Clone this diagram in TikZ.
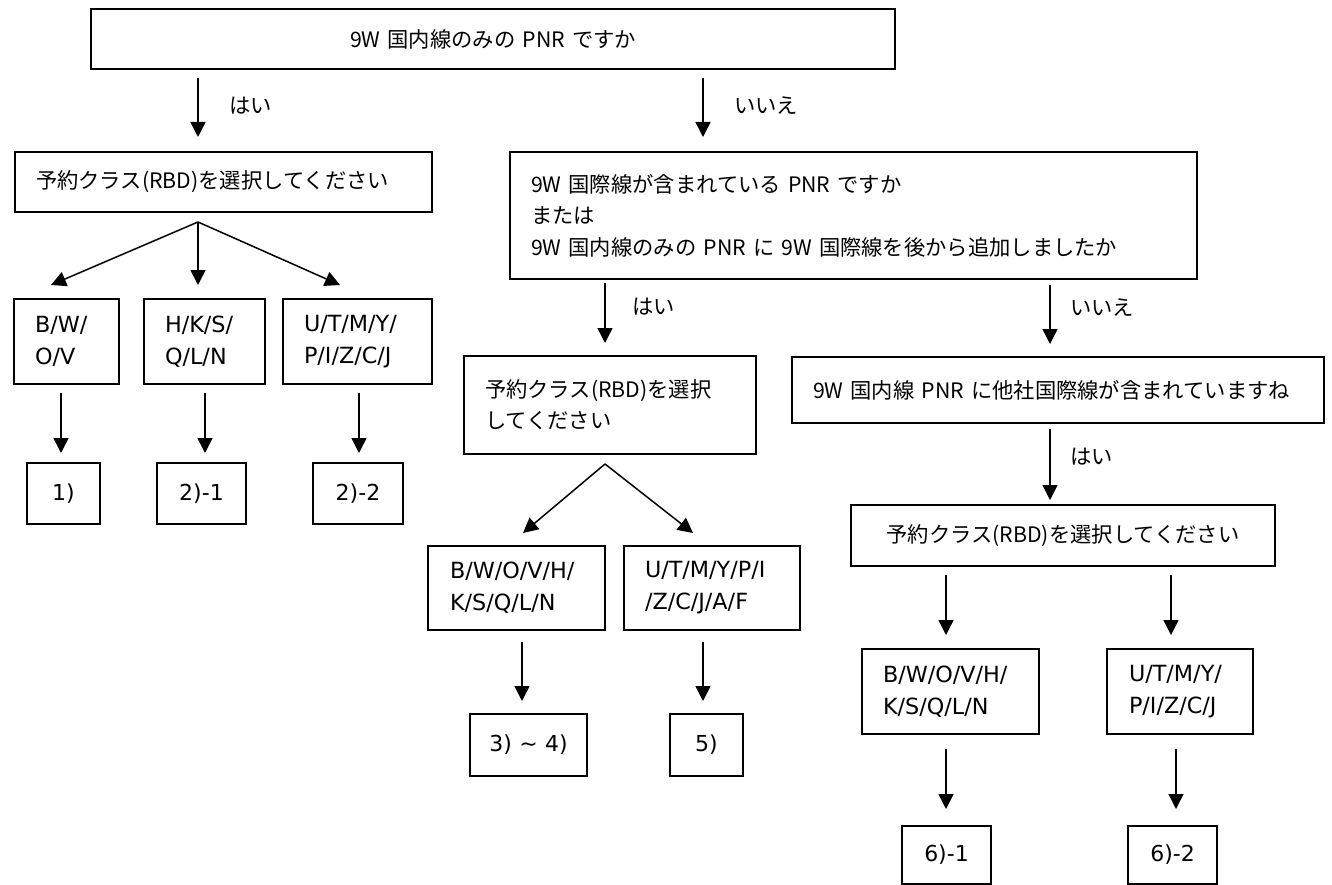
\documentclass[tikz,border=0pt]{standalone}
\usepackage{fontspec}
\setmainfont{DejaVu Sans}
\newfontfamily\jp{Noto Sans CJK JP}
\usetikzlibrary{arrows.meta}
\newcommand\mkbox[8]{%
  \pgfmathsetmacro\bcx{(#2+#4)/2}\pgfmathsetmacro\bcy{(#3+#5)/2}%
  \pgfmathsetmacro\bw{#4-#2}\pgfmathsetmacro\bh{#5-#3}%
  \pgfmathsetmacro\btw{2*(\bcx-#6)}%
  \node[box,#7,minimum width=\bw pt,minimum height=\bh pt,text width=\btw pt] (#1) at (\bcx,\bcy) {#8};}
\begin{document}
\begin{tikzpicture}[x=1pt,y=-1pt,
  box/.style={draw, line width=2pt, inner sep=0pt, align=left},
  jtxt/.style={font=\jp\fontsize{21.3}{31.5}\selectfont},
  ctxt/.style={font=\fontsize{22.3}{32}\selectfont},
  rtxt/.style={font=\fontsize{22}{24}\selectfont, align=center},
  arr/.style={line width=1.5pt, -{Triangle[width=15pt,length=15pt]}},
  lab/.style={anchor=west, inner sep=0pt, font=\jp\fontsize{21.3}{25}\selectfont}]
\useasboundingbox (0,0) rectangle (1332,885);

% top level
\mkbox{top}{91}{9}{895}{69}{93}{jtxt,align=center}{9W 国内線のみの PNR ですか}

% left branch
\mkbox{rbdA}{15}{152}{432}{212}{36}{jtxt}{予約クラス(RBD)を選択してください}
\mkbox{cA1}{14}{299}{119}{384}{35}{ctxt}{B/W/\\O/V}
\mkbox{cA2}{144}{299}{265}{384}{165}{ctxt}{H/K/S/\\Q/L/N}
\mkbox{cA3}{283}{299}{432}{384}{304}{ctxt}{U/T/M/Y/\\P/I/Z/C/J}
\mkbox{rA1}{27}{463}{100}{524}{29}{rtxt}{1)}
\mkbox{rA2}{157}{463}{246}{524}{159}{rtxt}{2)-1}
\mkbox{rA3}{313}{463}{403}{524}{315}{rtxt}{2)-2}

% middle branch
\mkbox{q2}{510}{152}{1197}{279}{531}{jtxt}{9W 国際線が含まれている PNR ですか\\または\\9W 国内線のみの PNR に 9W 国際線を後から追加しましたか}
\mkbox{rbdB}{464}{356}{756}{454}{485}{jtxt,font=\jp\fontsize{21.3}{31}\selectfont}{予約クラス(RBD)を選択\\してください}
\mkbox{cB1}{428}{546}{605}{630}{450}{ctxt}{B/W/O/V/H/\\K/S/Q/L/N}
\mkbox{cB2}{624}{546}{800}{630}{645}{ctxt}{U/T/M/Y/P/I\\/Z/C/J/A/F}
\mkbox{rB1}{470}{714}{587}{776}{472}{rtxt}{3) \textasciitilde{} 4)}
\mkbox{rB2}{670}{714}{743}{776}{672}{rtxt}{5)}

% right branch
\mkbox{q3}{792}{357}{1324}{423}{813}{jtxt}{9W 国内線 PNR に他社国際線が含まれていますね}
\mkbox{rbdC}{851}{505}{1275}{566}{853}{jtxt,align=center}{予約クラス(RBD)を選択してください}
\mkbox{cC1}{862}{649}{1039}{734}{883}{ctxt}{B/W/O/V/H/\\K/S/Q/L/N}
\mkbox{cC2}{1107}{649}{1253}{734}{1129}{ctxt}{U/T/M/Y/\\P/I/Z/C/J}
\mkbox{rC1}{902}{826}{991}{884}{904}{rtxt}{6)-1}
\mkbox{rC2}{1128}{826}{1217}{884}{1130}{rtxt}{6)-2}

% labels
\node[lab] (l1) at (229,106) {はい};
\node[lab] (l2) at (734,106) {いいえ};
\node[lab] (l3) at (632,307) {はい};
\node[lab] (l4) at (1070,308) {いいえ};
\node[lab] (l5) at (1070,457) {はい};

% connector end points
\coordinate (a1s) at (198,78);   \coordinate (a1e) at (198,137);
\coordinate (a2s) at (703,78);   \coordinate (a2e) at (703,137);
\coordinate (fA) at (198,222);
\coordinate (fA1) at (51,285); \coordinate (fA2) at (198,285); \coordinate (fA3) at (340,285);
\coordinate (dA1s) at (61,393);  \coordinate (dA1e) at (61,453);
\coordinate (dA2s) at (205,393); \coordinate (dA2e) at (205,453);
\coordinate (dA3s) at (359,393); \coordinate (dA3e) at (359,453);
\coordinate (b1s) at (605,283);  \coordinate (b1e) at (605,343);
\coordinate (fB) at (605,464);
\coordinate (fB1) at (523,533); \coordinate (fB2) at (693,533);
\coordinate (dB1s) at (522,642); \coordinate (dB1e) at (522,701);
\coordinate (dB2s) at (703,642); \coordinate (dB2e) at (703,701);
\coordinate (c1s) at (1050,285); \coordinate (c1e) at (1050,344);
\coordinate (c2s) at (1050,429); \coordinate (c2e) at (1050,500);
\coordinate (dC1s) at (946,575); \coordinate (dC1e) at (946,635);
\coordinate (dC2s) at (1171,575); \coordinate (dC2e) at (1171,635);
\coordinate (eC1s) at (946,749); \coordinate (eC1e) at (946,809);
\coordinate (eC2s) at (1176,749); \coordinate (eC2e) at (1176,809);

\draw[arr] (a1s) -- (a1e);
\draw[arr] (a2s) -- (a2e);
\draw[arr] (fA) -- (fA1);
\draw[arr] (fA) -- (fA2);
\draw[arr] (fA) -- (fA3);
\draw[arr] (dA1s) -- (dA1e);
\draw[arr] (dA2s) -- (dA2e);
\draw[arr] (dA3s) -- (dA3e);
\draw[arr] (b1s) -- (b1e);
\draw[arr] (fB) -- (fB1);
\draw[arr] (fB) -- (fB2);
\draw[arr] (dB1s) -- (dB1e);
\draw[arr] (dB2s) -- (dB2e);
\draw[arr] (c1s) -- (c1e);
\draw[arr] (c2s) -- (c2e);
\draw[arr] (dC1s) -- (dC1e);
\draw[arr] (dC2s) -- (dC2e);
\draw[arr] (eC1s) -- (eC1e);
\draw[arr] (eC2s) -- (eC2e);
\end{tikzpicture}
\end{document}
